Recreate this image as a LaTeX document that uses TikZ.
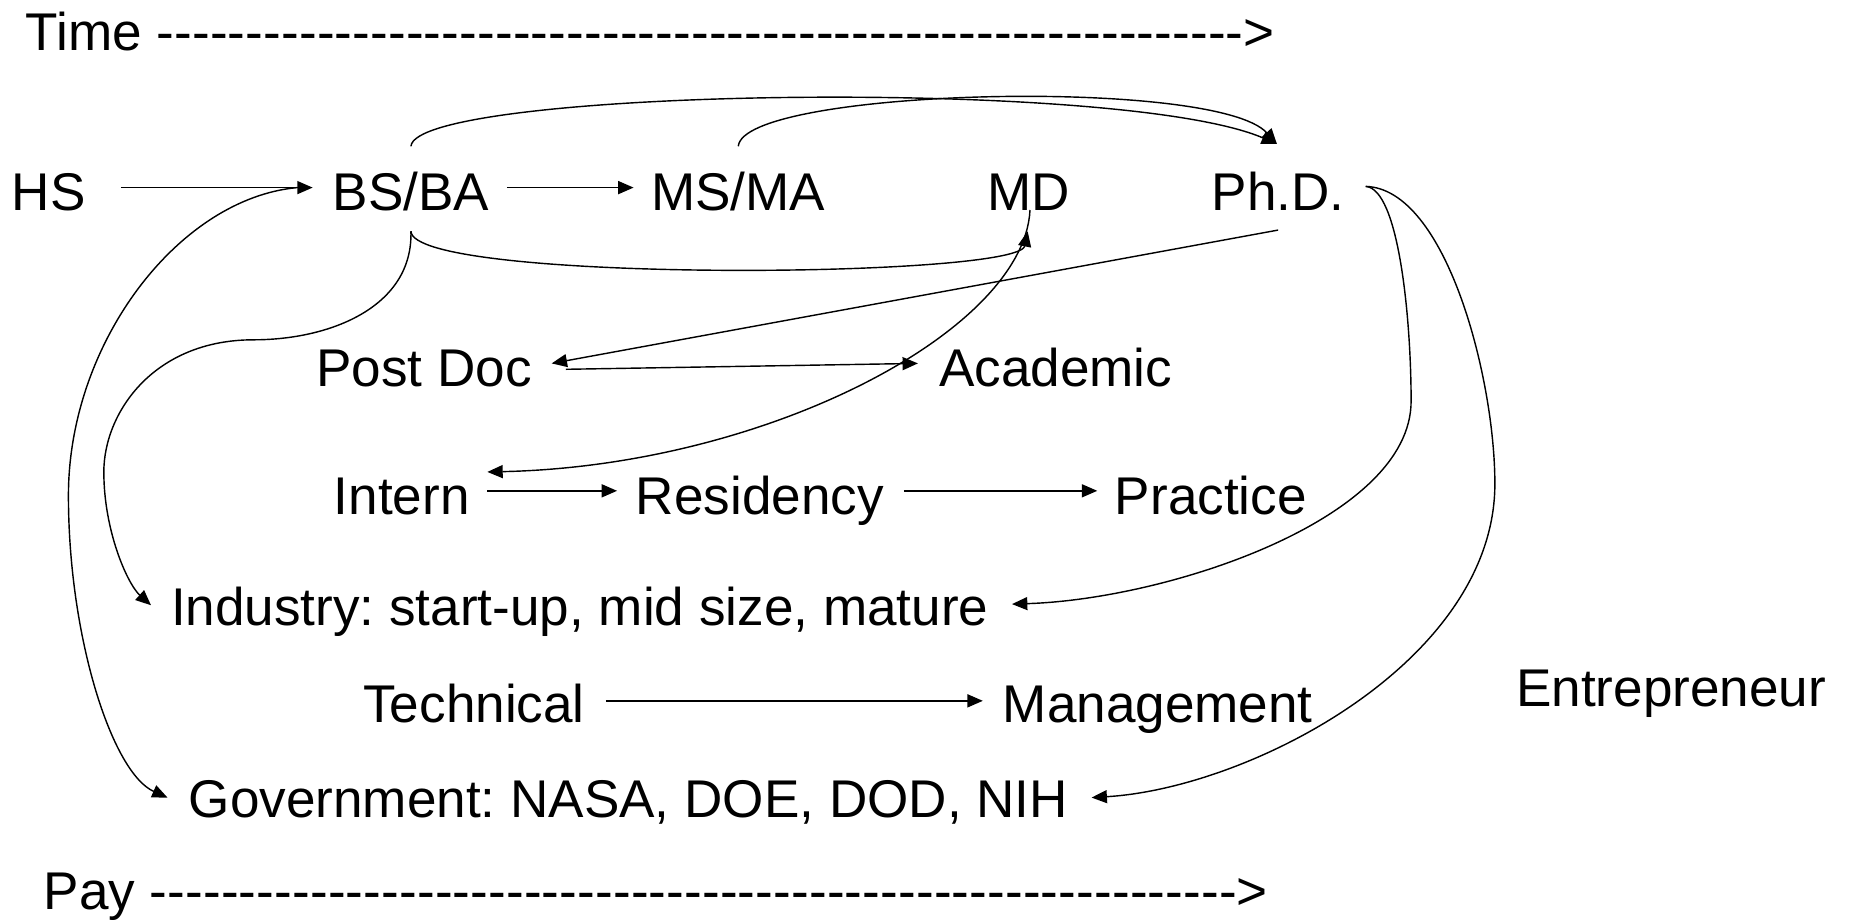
\documentclass[tikz,border=0pt]{standalone}
\usepackage{fontspec}
\setmainfont{Liberation Sans}
\usetikzlibrary{arrows.meta,calc}
\ExplSyntaxOn
\cs_new:Npn \mydashrow #1 { \prg_replicate:nn {#1} {-\kern0.12pt} }
\ExplSyntaxOff
\frenchspacing
\begin{document}
\begin{tikzpicture}[x=1pt,y=-1pt,
  lbl/.style={anchor=base west,inner sep=0pt,outer sep=0pt,text height=32pt,text depth=0pt,font=\fontsize{45}{54}\selectfont},
  con/.style={line width=1.2pt,-{Triangle[length=13pt,width=11pt]}}]
\useasboundingbox (0,0) rectangle (1568,782);
% texts
\node[lbl] (time) at (22,43) {Time \mydashrow{61}>};
\node[lbl] (hs) at (10,178) {HS};
\node[lbl] (bs) at (282,178) {BS/BA};
\node[lbl] (ms) at (552,178) {MS/MA};
\node[lbl] (md) at (837,178) {MD};
\node[lbl] (phd) at (1027,178) {Ph.D.};
\node[lbl] (postdoc) at (268,328) {Post Doc};
\node[lbl] (academic) at (796,328) {Academic};
\node[lbl] (intern) at (283,436) {Intern};
\node[lbl] (residency) at (539,436) {Residency};
\node[lbl] (practice) at (945,436) {Practice};
\node[lbl] (industry) at (145,530) {Industry: start-up, mid size, mature};
\node[lbl] (technical) at (308,612) {Technical};
\node[lbl] (management) at (850,612) {Management};
\node[lbl] (entre) at (1285,599) {Entrepreneur};
\node[lbl] (gov) at (160,693) {Government: NASA, DOE, DOD, NIH};
\node[lbl] (pay) at (37,771) {Pay \mydashrow{61}>};
% straight connectors
\draw[con] ($(hs.east)+(30,-3)$) -- ($(bs.west)+(-17,-3)$);
\draw[con] ($(bs.east)+(15,-3)$) -- ($(ms.west)+(-15,-3)$);
\draw[con] ($(phd.south)+(0,17)$) -- ($(postdoc.east)+(17,-4)$);
\draw[con] ($(postdoc.east)+(29,1)$) -- ($(academic.west)+(-18,-4)$);
\draw[con] ($(intern.east)+(15,-4)$) -- ($(residency.west)+(-16,-4)$);
\draw[con] ($(residency.east)+(17,-4)$) -- ($(practice.west)+(-15,-4)$);
\draw[con] ($(technical.east)+(18,-2)$) -- ($(management.west)+(-17,-2)$);
% curved connectors
\draw[con] ($(bs.north)+(0,-22)$) .. controls +(4,-49) and +(-132,-57) .. ($(phd.north)+(-1,-24)$);
\draw[con] ($(ms.north)+(0,-22)$) .. controls +(4,-49) and +(-52,-57) .. ($(phd.north)+(-1,-24)$);
\draw[con] ($(bs.south)+(0,18)$) .. controls +(2,44) and +(-8,40) .. ($(md.south)+(-1,18)$);
\draw[con] ($(md.south)+(1,0)$) .. controls +(-5,102) and +(237,-5) .. ($(intern.east)+(15,-20)$);
\draw[con] ($(bs.south)+(0,18)$) .. controls +(2,64) and +(65,0) .. (215,288)
  .. controls +(-85,0) and +(0,-50) .. (88,400)
  .. controls +(0,50) and +(-20,-18) .. ($(industry.west)+(-17,-1)$);
\draw[con] ($(bs.west)+(-30,-3)$) .. controls +(-100,9) and +(0,-130) .. (58,420)
  .. controls +(0,120) and +(-47,-21) .. ($(gov.west)+(-18,-1)$);
\draw[con] ($(phd.east)+(18,-4)$) .. controls +(28,2) and +(0,-70) .. (1196,340)
  .. controls +(0,100) and +(132,-4) .. ($(industry.east)+(20,-2)$);
\draw[con] ($(phd.east)+(18,-4)$) .. controls +(68,2) and +(0,-90) .. (1267,410)
  .. controls +(0,150) and +(135,-8) .. ($(gov.east)+(20,-1)$);
\end{tikzpicture}
\end{document}
